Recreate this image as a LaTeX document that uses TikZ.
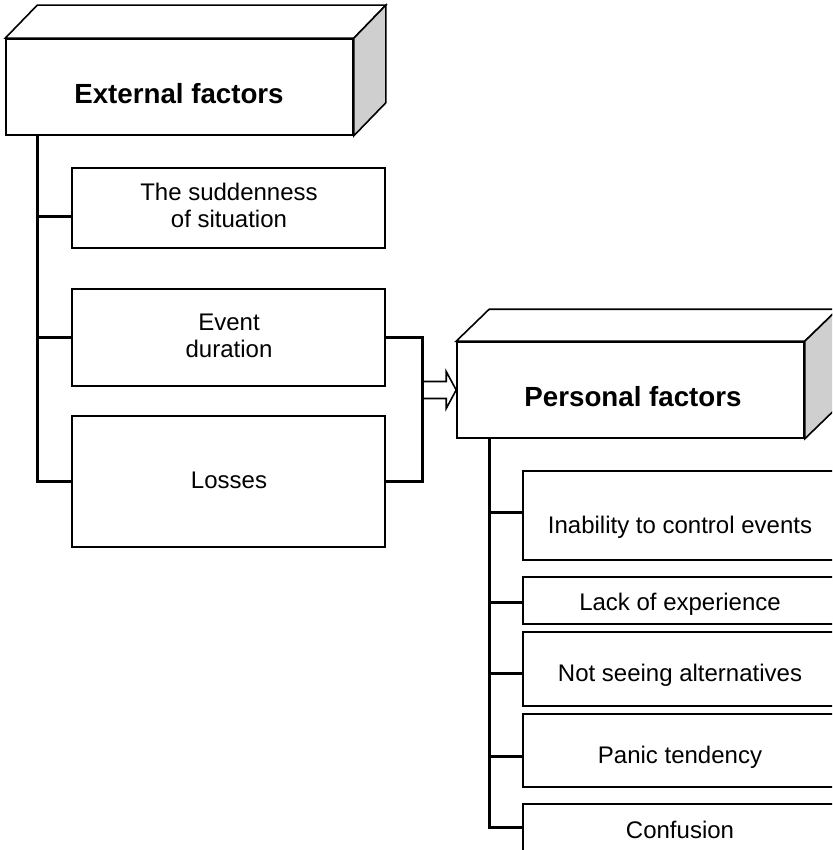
\documentclass[tikz,border=0pt]{standalone}
\usepackage{fontspec}
\setmainfont{Liberation Sans}
\usetikzlibrary{calc}
\begin{document}
\begin{tikzpicture}[x=1pt,y=-1pt,
  frontface/.style={draw=black,line width=1.6pt,fill=white,rectangle,inner sep=0pt,
    minimum width=347pt,minimum height=96pt},
  itembox/.style={draw=black,line width=1.6pt,fill=white,rectangle,inner sep=0pt,
    minimum width=313pt},
  face/.style={draw=black,line width=1.6pt,line join=miter},
  sideface/.style={face,fill=black!19},
  topface/.style={face,fill=white},
  title/.style={anchor=base,inner sep=0pt,font=\fontsize{27.7}{32}\selectfont\bfseries},
  label/.style={anchor=base,inner sep=0pt,align=center,font=\fontsize{24}{27}\selectfont},
  link/.style={draw=black,line width=3pt,line cap=rect},
  hollowarrow/.style={draw=black,line width=1.6pt,line join=miter},
]
\useasboundingbox (0,0) rectangle (832,850);
\clip (0,0) rectangle (832,850);

% ---- external factors block (3D box) ----
\node[frontface] (ext) at (179.5,87) {};
\draw[topface] (ext.north west) -- ++(32,-33) -- ($(ext.north east)+(32,-33)$) -- (ext.north east) -- cycle;
\draw[sideface] (ext.north east) -- ++(32,-33) -- ($(ext.south east)+(32,-33)$) -- (ext.south east) -- cycle;
\node[title] (extt) at (179,104) {External factors};

% ---- external items (base anchor sits on the last line) ----
\node[itembox,minimum height=80pt] (sud) at (228.5,208) {};
\node[label] (sudt) at (229,228) {The suddenness\\of situation};
\node[itembox,minimum height=97pt] (evt) at (228.5,337.5) {};
\node[label] (evtt) at (229,357) {Event\\duration};
\node[itembox,minimum height=131pt] (los) at (228.5,481.5) {};
\node[label] (lost) at (229,488) {Losses};

% trunk and branches on the left
\coordinate (lt) at ($(ext.south west)+(32,0)$);
\draw[link] (lt) |- (los.west);
\draw[link] ($(sud.west)+(0,9)$) -- ++(-34,0);
\draw[link] (evt.west) -- ++(-34,0);

% bracket joining the lower items
\draw[link] ($(evt.east)+(2,0)$) -| ($(los.east)+(37,0)$) -- ($(los.east)+(2,0)$);

% ---- personal factors block (3D box) ----
\node[frontface] (per) at (630.5,390) {};
\draw[topface] (per.north west) -- ++(33,-32) -- ($(per.north east)+(33,-32)$) -- (per.north east) -- cycle;
\draw[sideface] (per.north east) -- ++(33,-32) -- ($(per.south east)+(33,-32)$) -- (per.south east) -- cycle;
\node[title] (pert) at (633,406) {Personal factors};

% hollow arrow from the bracket to the personal block
\coordinate (am) at ($(per.west)+(-35,0)$);
\draw[hollowarrow] ($(am)+(0,-8.5)$) -- ++(25,0) -- ++(0,-10) -- (per.west)
  -- ($(per.west)+(-10,18.5)$) -- ++(0,-10) -- ($(am)+(0,8.5)$);

% ---- personal items ----
\node[itembox,minimum width=314pt,minimum height=89pt] (inab) at (680,515.5) {};
\node[label] (inabt) at (680,533) {Inability to control events};
\node[itembox,minimum width=314pt,minimum height=47pt] (lack) at (680,600.5) {};
\node[label] (lackt) at (680,610) {Lack of experience};
\node[itembox,minimum width=314pt,minimum height=74pt] (alt) at (680,669) {};
\node[label] (altt) at (680,681) {Not seeing alternatives};
\node[itembox,minimum width=314pt,minimum height=73pt] (pan) at (680,750.5) {};
\node[label] (pant) at (680,763) {Panic tendency};
\node[itembox,minimum width=314pt,minimum height=70pt] (conf) at (680,839) {};
\node[label] (conft) at (680,838) {Confusion};

% trunk and branches on the right
\coordinate (rt) at ($(per.south west)+(33,0)$);
\coordinate (rb) at ($(conf.west)+(-33,-12)$);
\draw[link] (rt) -- (rt |- rb) -- (rb -| conf.west);
\draw[link] ($(inab.west)+(0,-3.5)$) -- ++(-33,0);
\draw[link] ($(lack.west)+(0,1.5)$) -- ++(-33,0);
\draw[link] ($(alt.west)+(0,4)$) -- ++(-33,0);
\draw[link] ($(pan.west)+(0,5.5)$) -- ++(-33,0);
\end{tikzpicture}
\end{document}
